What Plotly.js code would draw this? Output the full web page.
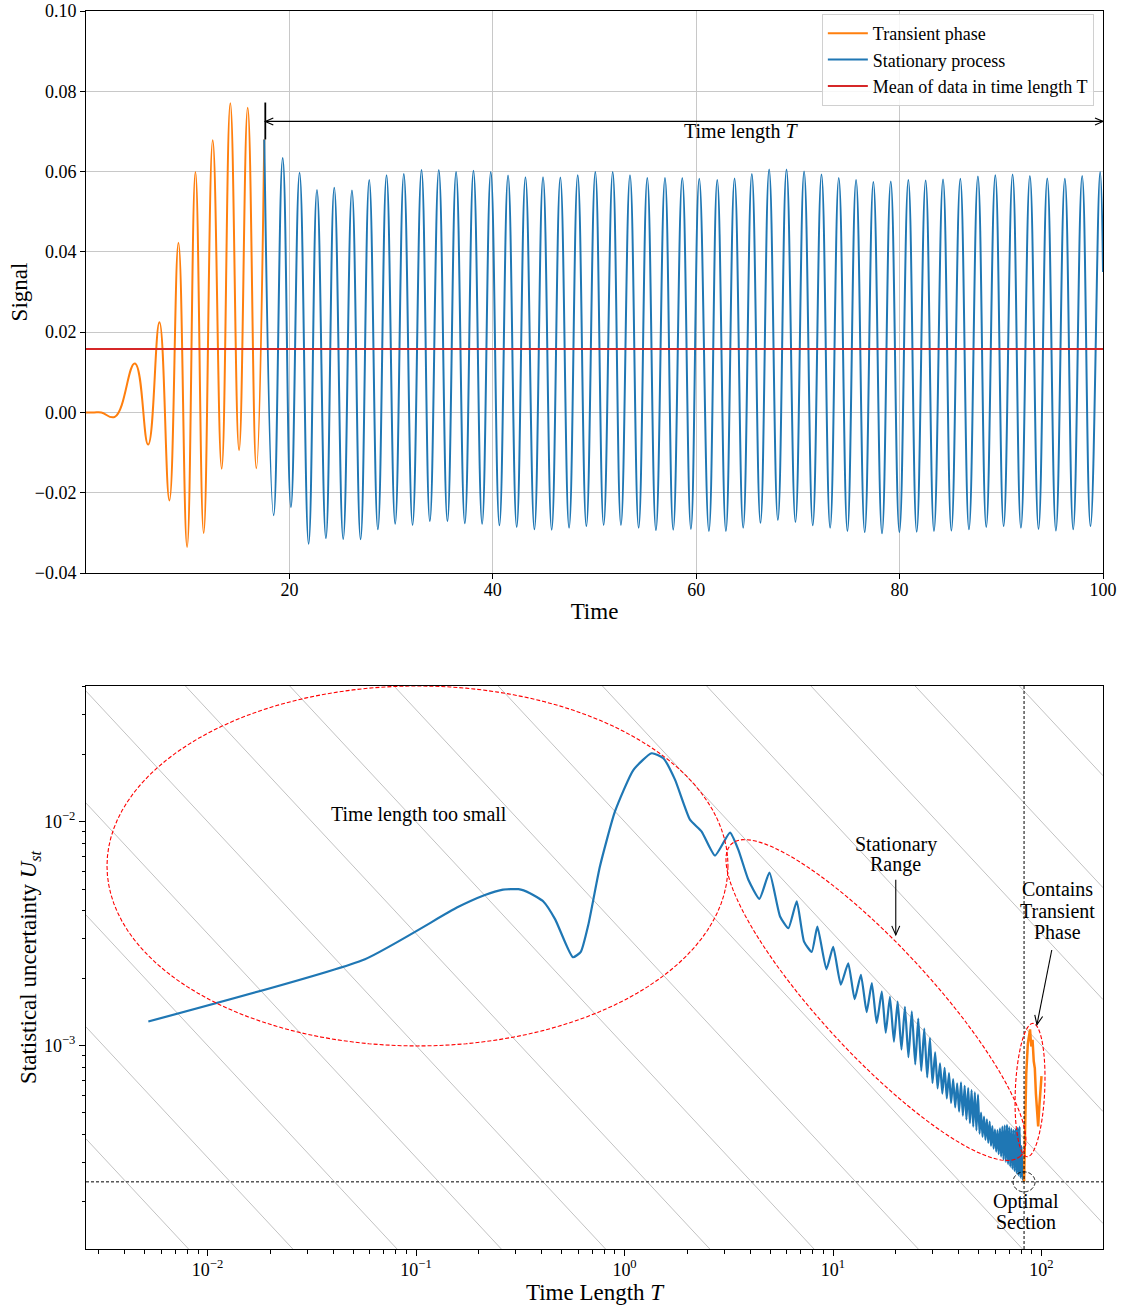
<!DOCTYPE html>
<html><head><meta charset="utf-8">
<script src="https://cdn.plot.ly/plotly-3.0.1.min.js"></script>
<style>html,body{margin:0;padding:0;background:#fff}</style>
</head><body><div id="chart" style="width:1124px;height:1310px"></div>
<script>
// ---------------- DATA ----------------
const seriesNames = ['Transient phase', 'Stationary process', 'Mean of data in time length T'];

// Top panel: signal vs time (peak / trough readings)
const transientTime = [0, 0.8, 1.5, 2.83, 4.80, 6.11, 7.22, 8.20, 9.09, 9.94, 10.76, 11.57, 12.46, 13.34, 14.19, 15.05, 15.90, 16.75, 17.53];
const transientSignal = [0, 0, 0, -0.0011, 0.0122, -0.0080, 0.0225, -0.0219, 0.0423, -0.0335, 0.0599, -0.0300, 0.0678, -0.0140, 0.0770, -0.0094, 0.0759, -0.0139, 0.0680];

const stationaryTime = [17.53, 18.45, 19.34, 20.15, 21.00, 21.89, 22.71, 23.59, 24.41, 25.29, 26.15, 27.00, 27.85, 28.70, 29.55, 30.40, 31.25, 32.11, 32.99, 33.81, 34.69, 35.54, 36.39, 37.25, 38.10, 38.95, 39.80, 40.65, 41.50, 42.35, 43.21, 44.09, 44.94, 45.79, 46.64, 47.50, 48.35, 49.20, 50.08, 50.90, 51.79, 52.60, 53.49, 54.34, 55.19, 56.04, 56.93, 57.74, 58.63, 59.48, 60.30, 61.25, 62.07, 62.92, 63.77, 64.62, 65.47, 66.32, 67.17, 68.03, 68.88, 69.76, 70.61, 71.46, 72.32, 73.17, 74.02, 74.87, 75.72, 76.57, 77.42, 78.27, 79.13, 79.98, 80.86, 81.68, 82.56, 83.38, 84.27, 85.09, 85.97, 86.82, 87.70, 88.52, 89.41, 90.23, 91.11, 91.93, 92.81, 93.66, 94.52, 95.37, 96.25, 97.07, 97.95, 98.77, 99.72, 100.0];
const stationarySignal = [0.0680, -0.0256, 0.0634, -0.0236, 0.0597, -0.0327, 0.0554, -0.0313, 0.0560, -0.0315, 0.0553, -0.0316, 0.0579, -0.0291, 0.0591, -0.0277, 0.0594, -0.0280, 0.0604, -0.0271, 0.0604, -0.0271, 0.0599, -0.0276, 0.0602, -0.0277, 0.0599, -0.0281, 0.0590, -0.0285, 0.0586, -0.0291, 0.0586, -0.0292, 0.0585, -0.0287, 0.0591, -0.0283, 0.0599, -0.0280, 0.0599, -0.0280, 0.0591, -0.0287, 0.0584, -0.0293, 0.0584, -0.0292, 0.0584, -0.0290, 0.0582, -0.0295, 0.0579, -0.0295, 0.0583, -0.0287, 0.0594, -0.0275, 0.0605, -0.0268, 0.0605, -0.0273, 0.0600, -0.0281, 0.0593, -0.0287, 0.0584, -0.0295, 0.0579, -0.0298, 0.0574, -0.0301, 0.0575, -0.0298, 0.0579, -0.0297, 0.0578, -0.0295, 0.0580, -0.0294, 0.0582, -0.0291, 0.0588, -0.0285, 0.0591, -0.0283, 0.0593, -0.0287, 0.0589, -0.0290, 0.0583, -0.0294, 0.0582, -0.0291, 0.0589, -0.0283, 0.0599, 0.0350];

const meanSignal = 0.0158;
const meanTime = [0, 100];
const stationaryStart = 17.63;       // start of time length T
const timeEnd = 100;

// Bottom panel: statistical uncertainty vs time length
const uncTime = [0.0052, 0.0569, 0.157, 0.214, 0.258, 0.310, 0.352, 0.408, 0.465, 0.565, 0.617, 0.670, 0.762, 0.900, 1.102, 1.349, 1.535, 1.746, 2.061, 2.344, 2.716, 3.206, 3.516, 3.926, 4.436, 4.955, 5.572, 6.109, 6.699, 7.261, 7.907, 8.414,
  9.3, 10.02, 10.9, 11.83, 12.7, 13.61, 14.5, 15.35, 16.2, 17.14, 17.9, 18.75, 19.6, 20.42, 21.3, 22.13, 23.0, 23.88, 24.8, 25.64, 26.5, 27.4, 28.3, 29.17, 30.0, 30.9, 31.75, 32.6, 33.45, 34.3, 35.15, 36.0, 36.85, 37.7, 38.55, 39.4, 40.25, 41.1, 41.95, 42.8, 43.65, 44.5, 45.35, 46.2, 47.05, 47.9, 48.75, 49.6, 50.45, 51.3, 52.15, 53.0, 53.85, 54.7, 55.55, 56.4, 57.25, 58.1, 58.95, 59.8, 60.65, 61.5, 62.35, 63.2, 64.05, 64.9, 65.75, 66.6, 67.45, 68.3, 69.15, 70.0, 70.85, 71.7, 72.55, 73.4, 74.25, 75.1, 75.95, 76.8, 77.65, 78.5, 79.35, 80.2, 81.1, 81.8, 82.47];
const uncValue = [1.28e-3, 2.43e-3, 4.13e-3, 4.70e-3, 4.96e-3, 4.99e-3, 4.79e-3, 4.40e-3, 3.66e-3, 2.48e-3, 2.62e-3, 3.45e-3, 6.30e-3, 1.11e-2, 1.70e-2, 2.02e-2, 1.92e-2, 1.54e-2, 1.02e-2, 9.02e-3, 7.05e-3, 8.93e-3, 7.48e-3, 5.50e-3, 4.52e-3, 5.92e-3, 3.77e-3, 3.34e-3, 4.40e-3, 2.91e-3, 2.62e-3, 3.40e-3,
  2.19e-3, 2.76e-3, 1.87e-3, 2.33e-3, 1.61e-3, 2.07e-3, 1.41e-3, 1.90e-3, 1.26e-3, 1.74e-3, 1.14e-3, 1.65e-3, 1.04e-3, 1.57e-3, 9.58e-4, 1.49e-3, 8.87e-4, 1.42e-3, 8.23e-4, 1.32e-3, 7.70e-4, 1.19e-3, 7.21e-4, 1.08e-3, 6.80e-4, 9.33e-4, 6.43e-4, 8.32e-4, 6.10e-4, 7.94e-4, 5.80e-4, 7.52e-4, 5.54e-4, 7.08e-4, 5.29e-4, 6.78e-4, 5.07e-4, 6.84e-4, 4.86e-4, 6.61e-4, 4.67e-4, 6.46e-4, 4.50e-4, 6.32e-4, 4.34e-4, 6.17e-4, 4.18e-4, 6.03e-4, 4.04e-4, 5.01e-4, 3.91e-4, 4.81e-4, 3.79e-4, 4.68e-4, 3.67e-4, 4.57e-4, 3.56e-4, 4.37e-4, 3.46e-4, 4.22e-4, 3.36e-4, 4.19e-4, 3.27e-4, 4.27e-4, 3.19e-4, 4.34e-4, 3.10e-4, 4.39e-4, 3.02e-4, 4.42e-4, 2.95e-4, 4.32e-4, 2.88e-4, 4.25e-4, 2.81e-4, 4.19e-4, 2.75e-4, 4.22e-4, 2.69e-4, 4.29e-4, 2.63e-4, 4.34e-4, 2.57e-4, 3.55e-4, 2.52e-4, 2.90e-4, 2.47e-4];

const transUncTime = [82.47, 83.2, 84.5, 86.0, 88.1, 89.3, 90.6, 91.8, 92.9, 94.0, 95.2, 96.4, 97.7, 99.0, 100.0];
const transUncValue = [2.47e-4, 4.5e-4, 7.5e-4, 1.02e-3, 1.18e-3, 9.9e-4, 1.06e-3, 8.5e-4, 7.9e-4, 6.1e-4, 4.9e-4, 4.35e-4, 5.4e-4, 6.6e-4, 7.3e-4];

const optimalT = 82.47, optimalU = 2.46e-4;
const isoLineLevels = [-6.5, -6, -5.5, -5, -4.5, -4, -3.5, -3, -2.5, -2, -1.5, -1, -0.5, 0, 0.5]; // log10(U*T)

const xTickVals = [0.01, 0.1, 1, 10, 100];
const xTickText = ['10<sup>\u22122</sup>', '10<sup>\u22121</sup>', '10<sup>0</sup>', '10<sup>1</sup>', '10<sup>2</sup>'];
const yTickVals = [0.001, 0.01];
const yTickText = ['10<sup>\u22123</sup>', '10<sup>\u22122</sup>'];

// ---------------- LAYOUT ----------------
const W = 1124, H = 1310, M = {l: 86, r: 21, t: 11, b: 61};
const plotW = W - M.l - M.r, plotH = H - M.t - M.b;
const topDomain = [0.5460, 1], botDomain = [0, 0.4548];
const xLogRange = [-2.583, 2.295], yLogRange = [-3.909, -1.394];
const pxX = plotW / (xLogRange[1] - xLogRange[0]);
const pxY = plotH * (botDomain[1] - botDomain[0]) / (yLogRange[1] - yLogRange[0]);

const FONT = 'Liberation Serif, Times New Roman, Times, serif';
const C_ORANGE = '#ff7f0e', C_BLUE = '#1f77b4', C_RED = '#d62728';

function f(v) { return v.toFixed(10); }
function ellipsePath(cx, cy, a, b, deg) {
  const th = deg * Math.PI / 180; let s = '';
  for (let i = 0; i <= 120; i++) {
    const p = 2 * Math.PI * i / 120;
    const dx = a * Math.cos(p) * Math.cos(th) - b * Math.sin(p) * Math.sin(th);
    const dy = a * Math.cos(p) * Math.sin(th) + b * Math.sin(p) * Math.cos(th);
    s += (i ? ' L' : 'M') + f(Math.pow(10, cx + dx / pxX)) + ',' + f(Math.pow(10, cy - dy / pxY));
  }
  return s + ' Z';
}
function headPath(dx, dy, len, half) { // dx,dy: screen direction tail->tip
  const n = Math.hypot(dx, dy), ux = dx / n, uy = dy / n;
  const bx = -ux * len, by = -uy * len, px = -uy * half, py = ux * half;
  return 'M' + (bx + px).toFixed(2) + ',' + (-(by + py)).toFixed(2) + ' L0,0 L' + (bx - px).toFixed(2) + ',' + (-(by - py)).toFixed(2);
}
function screenDir(x0, y0, x1, y1) { // log axes, data -> screen direction
  return [(Math.log10(x1) - Math.log10(x0)) * pxX, -(Math.log10(y1) - Math.log10(y0)) * pxY];
}

const traces = [
  {x: transientTime, y: transientSignal, xaxis: 'x', yaxis: 'y', type: 'scatter', mode: 'lines', name: seriesNames[0], legendgroup: 'a',
   line: {color: C_ORANGE, width: 2, shape: 'spline', smoothing: 1.25}},
  {x: stationaryTime, y: stationarySignal, xaxis: 'x', yaxis: 'y', type: 'scatter', mode: 'lines', name: seriesNames[1], legendgroup: 'b',
   line: {color: C_BLUE, width: 2, shape: 'spline', smoothing: 1.25}},
  {x: meanTime, y: [meanSignal, meanSignal], xaxis: 'x', yaxis: 'y', type: 'scatter', mode: 'lines', name: seriesNames[2], legendgroup: 'c',
   line: {color: C_RED, width: 2}},
  {x: uncTime, y: uncValue, xaxis: 'x2', yaxis: 'y2', type: 'scatter', mode: 'lines', showlegend: false,
   line: {color: C_BLUE, width: 2.2, shape: 'spline', smoothing: 0.5}},
  {x: transUncTime, y: transUncValue, xaxis: 'x2', yaxis: 'y2', type: 'scatter', mode: 'lines', showlegend: false,
   line: {color: C_ORANGE, width: 2.5}}
];

const shapes = [];
// iso-lines U*T = const in the bottom panel
const xMin = Math.pow(10, xLogRange[0]), xMax = Math.pow(10, xLogRange[1]);
isoLineLevels.forEach(c => {
  shapes.push({type: 'line', xref: 'x2', yref: 'y2', layer: 'below', x0: xMin, x1: xMax,
    y0: Math.pow(10, c) / xMin, y1: Math.pow(10, c) / xMax, line: {color: '#c2c2c2', width: 1}});
});
// optimal section reference lines
shapes.push({type: 'line', xref: 'x2', yref: 'paper', x0: optimalT, x1: optimalT, y0: botDomain[0], y1: botDomain[1], line: {color: 'black', width: 1, dash: '3px,2px'}});
shapes.push({type: 'line', xref: 'paper', yref: 'y2', x0: 0, x1: 1, y0: optimalU, y1: optimalU, line: {color: 'black', width: 1, dash: '3px,2px'}});
// ellipses
const redDash = {color: '#ff0000', width: 1.1, dash: '4px,2px'};
shapes.push({type: 'path', xref: 'x2', yref: 'y2', path: ellipsePath(-0.993, -2.198, 310.5, 180, 0), line: redDash});
shapes.push({type: 'path', xref: 'x2', yref: 'y2', path: ellipsePath(1.206, -2.797, 212.7, 54.7, 47.2), line: redDash});
shapes.push({type: 'path', xref: 'x2', yref: 'y2', path: ellipsePath(1.945, -3.199, 66.7, 14.7, 92.5), line: redDash});
shapes.push({type: 'path', xref: 'x2', yref: 'y2', path: ellipsePath(Math.log10(optimalT), Math.log10(optimalU), 11, 10, 0), line: {color: 'black', width: 1, dash: '4px,2px'}});

// arrows in bottom panel
function addArrow(xr, yr, x0, y0, x1, y1) {
  shapes.push({type: 'line', xref: xr, yref: yr, x0: x0, y0: y0, x1: x1, y1: y1, line: {color: 'black', width: 1.1}});
  const d = screenDir(x0, y0, x1, y1);
  shapes.push({type: 'path', xref: xr, yref: yr, xsizemode: 'pixel', ysizemode: 'pixel', xanchor: x1, yanchor: y1,
    path: headPath(d[0], d[1], 9, 4), line: {color: 'black', width: 1.1}});
}
addArrow('x2', 'y2', 20.0, 5.5e-3, 20.0, 3.12e-3);
addArrow('x2', 'y2', 112, 2.67e-3, 95.1, 1.24e-3);

// Top panel: time-length marker and double arrow
shapes.push({type: 'line', xref: 'x', yref: 'y', x0: stationaryStart, x1: stationaryStart, y0: 0.0680, y1: 0.0772, line: {color: 'black', width: 1.8}});
shapes.push({type: 'line', xref: 'x', yref: 'y', x0: stationaryStart, x1: timeEnd, y0: 0.0725, y1: 0.0725, line: {color: 'black', width: 1.1}});
shapes.push({type: 'path', xref: 'x', yref: 'y', xsizemode: 'pixel', ysizemode: 'pixel', xanchor: stationaryStart, yanchor: 0.0725,
  path: headPath(-1, 0, 8, 3.5), line: {color: 'black', width: 1.1}});
shapes.push({type: 'path', xref: 'x', yref: 'y', xsizemode: 'pixel', ysizemode: 'pixel', xanchor: timeEnd, yanchor: 0.0725,
  path: headPath(1, 0, 8, 3.5), line: {color: 'black', width: 1.1}});

const annFont = {family: FONT, size: 20, color: 'black'};
function ann(xr, yr, x, y, text) {
  return {xref: xr, yref: yr, x: x, y: y, text: text, showarrow: false, font: annFont, xanchor: 'center', yanchor: 'middle'};
}
const annotations = [
  ann('x', 'y', 64.5, 0.0700, 'Time length <i>T</i>'),
  ann('x2', 'y2', -0.986, -1.970, 'Time length too small'),
  ann('x2', 'y2', 1.302, -2.100, 'Stationary'),
  ann('x2', 'y2', 1.302, -2.193, 'Range'),
  ann('x2', 'y2', 2.079, -2.300, 'Contains'),
  ann('x2', 'y2', 2.079, -2.399, 'Transient'),
  ann('x2', 'y2', 2.077, -2.493, 'Phase'),
  ann('x2', 'y2', 1.926, -3.695, 'Optimal'),
  ann('x2', 'y2', 1.926, -3.789, 'Section')
];

function minorVals(lo, hi) {
  const v = [];
  for (let e = Math.floor(lo); e <= Math.ceil(hi); e++)
    for (let m = 2; m <= 9; m++) { const t = m * Math.pow(10, e); if (Math.log10(t) > lo && Math.log10(t) < hi) v.push(t); }
  return v;
}

const axisCommon = {showline: true, mirror: true, linecolor: 'black', linewidth: 1, ticks: 'outside', ticklen: 5, tickwidth: 1,
  tickcolor: 'black', zeroline: false, tickfont: {family: FONT, size: 18, color: 'black'}};

const layout = {
  width: W, height: H, margin: M, paper_bgcolor: 'white', plot_bgcolor: 'white',
  font: {family: FONT, size: 18, color: 'black'},
  showlegend: true,
  legend: {x: 0.991, xanchor: 'right', y: 0.9976, yanchor: 'top', bgcolor: 'rgba(255,255,255,0.85)', bordercolor: '#d0d0d0', borderwidth: 1,
    font: {family: FONT, size: 18}, tracegroupgap: 3, itemwidth: 40, traceorder: 'normal'},
  xaxis: Object.assign({}, axisCommon, {domain: [0, 1], anchor: 'y', range: [0, 100], tickmode: 'array', tickvals: [20, 40, 60, 80, 100],
    showgrid: true, gridcolor: '#c8c8c8', gridwidth: 1, ticklabelstandoff: -5,
    title: {text: 'Time', font: {family: FONT, size: 23}, standoff: 4}}),
  yaxis: Object.assign({}, axisCommon, {domain: topDomain, anchor: 'x', range: [-0.04, 0.10], tick0: 0, dtick: 0.02, tickformat: '.2f',
    showgrid: true, gridcolor: '#c8c8c8', gridwidth: 1,
    title: {text: 'Signal', font: {family: FONT, size: 23}, standoff: 0}}),
  xaxis2: Object.assign({}, axisCommon, {domain: [0, 1], anchor: 'y2', type: 'log', range: xLogRange, tickmode: 'array',
    tickvals: xTickVals, ticktext: xTickText, showgrid: false, ticklen: 6, ticklabelstandoff: -2,
    minor: {tickmode: 'array', tickvals: minorVals(xLogRange[0], xLogRange[1]), ticks: 'outside', ticklen: 3.5, tickcolor: 'black', showgrid: false},
    title: {text: 'Time Length <i>T</i>', font: {family: FONT, size: 23}, standoff: 2}}),
  yaxis2: Object.assign({}, axisCommon, {domain: botDomain, anchor: 'x2', type: 'log', range: yLogRange, tickmode: 'array',
    tickvals: yTickVals, ticktext: yTickText, showgrid: false, ticklen: 6,
    minor: {tickmode: 'array', tickvals: minorVals(yLogRange[0], yLogRange[1]), ticks: 'outside', ticklen: 3.5, tickcolor: 'black', showgrid: false},
    title: {text: 'Statistical uncertainty <i>U</i><sub><i>st</i></sub>', font: {family: FONT, size: 23}, standoff: 0}}),
  shapes: shapes,
  annotations: annotations
};

Plotly.newPlot('chart', traces, layout, {displayModeBar: false});
</script>
</body></html>
